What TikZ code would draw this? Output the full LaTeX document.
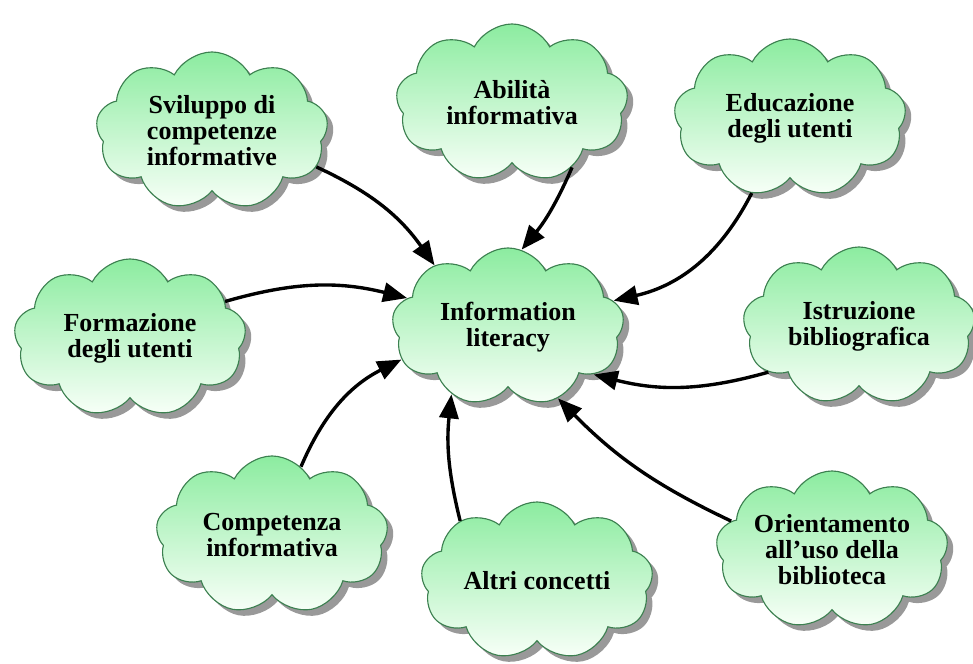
\documentclass[tikz,border=0pt]{standalone}
\usepackage{fontspec}
\setmainfont{Liberation Serif}
\usetikzlibrary{shapes.symbols,shadows,arrows.meta}
\definecolor{cloudtop}{RGB}{140,236,160}
\definecolor{cloudbot}{RGB}{248,255,248}
\definecolor{cloudline}{RGB}{60,128,80}
\tikzset{
  idea/.style={cloud, cloud puffs=9, cloud puff arc=125, cloud ignores aspect,
    minimum width=5.8cm, minimum height=3.95cm, inner sep=0pt, draw=cloudline, thick,
    top color=cloudtop, bottom color=cloudbot, align=center,
    font=\fontsize{18.5}{18.5}\selectfont\bfseries,
    drop shadow={shadow xshift=0.15cm, shadow yshift=-0.15cm, fill=black!50, opacity=0.8}},
  link/.style={black, line width=2.4pt, -{Triangle[length=6mm,width=4.8mm]}}
}
\begin{document}
\begin{tikzpicture}[x=0.025cm,y=0.025cm]
\useasboundingbox (0,0) rectangle (973,664);
%
\node[idea] (info) at (508,337) {Information\\literacy};
\node[idea] (svil) at (212,533) {Sviluppo di\\competenze\\informative};
\node[idea] (abil) at (512,561) {Abilità\\informativa};
\node[idea] (educ) at (790,546) {Educazione\\degli utenti};
\node[idea] (form) at (130,326) {Formazione\\degli utenti};
\node[idea] (istr) at (859,338) {Istruzione\\bibliografica};
\node[idea] (comp) at (272,129) {Competenza\\informativa};
\node[idea] (altri) at (537,83) {Altri concetti};
\node[idea] (orie) at (832,114) {Orientamento\\all’uso della\\biblioteca};
%
\draw[link] (svil.-19) to[bend left=15] (info.140);
\draw[link] (abil.-47) to[bend left=8] (info.80);
\draw[link] (educ.-117) to[bend left=25] (info.14);
\draw[link] (form.21) to[bend left=15] (info.164);
\draw[link] (istr.207) to[bend left=15] (info.-29);
\draw[link] (comp.67) to[bend left=20] (info.197);
\draw[link] (altri.142) to[bend left=10] (info.230);
\draw[link] (orie.164) to[bend left=10] (info.-55);
%
\end{tikzpicture}
\end{document}
